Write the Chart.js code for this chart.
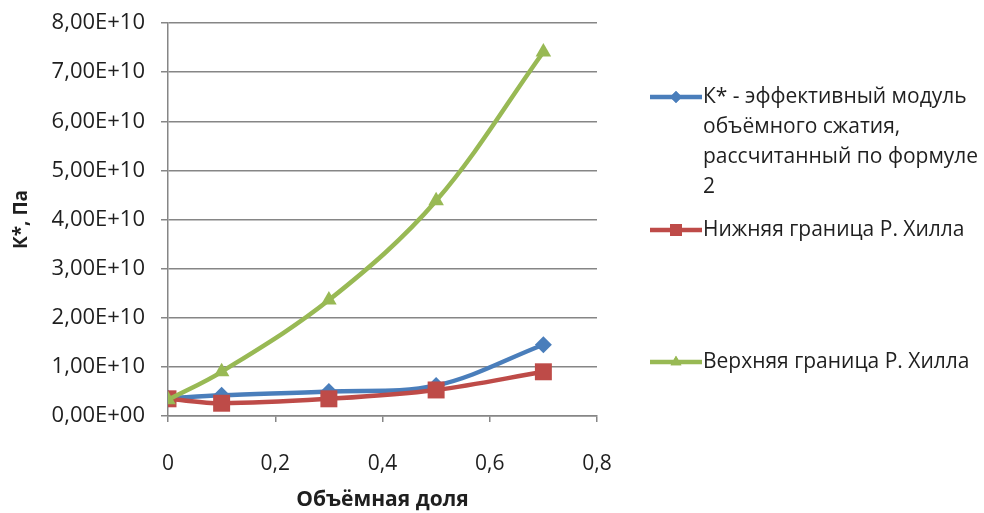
<!DOCTYPE html>
<html>
<head>
<meta charset="utf-8">
<script src="https://cdn.jsdelivr.net/npm/chart.js@4/dist/chart.umd.min.js"></script>
<style>
  html, body { margin: 0; padding: 0; background: #ffffff; }
  #wrap { width: 984px; height: 513px; position: relative; }
</style>
</head>
<body>
<div id="wrap"><canvas id="c" width="984" height="513"></canvas></div>
<script>
// Volume fraction of the inclusions
const volumeFraction = [0, 0.1, 0.3, 0.5, 0.7];

// Bulk modulus values, Pa
const kEffective = [3.6e9, 4.2e9, 5.0e9, 6.2e9, 1.45e10];
const hillLower  = [3.5e9, 2.6e9, 3.5e9, 5.3e9, 9.0e9];
const hillUpper  = [3.3e9, 9.0e9, 2.36e10, 4.38e10, 7.41e10];

const seriesNames = [
  'К* - эффективный модуль объёмного сжатия, рассчитанный по формуле 2',
  'Нижняя граница Р. Хилла',
  'Верхняя граница Р. Хилла'
];

const xTitle = 'Объёмная доля';
const yTitle = 'К*, Па';

const FONT = '"Open Sans", "DejaVu Sans", sans-serif';
const TEXT = '#1f1f1f';

function pts(ys) { return volumeFraction.map((x, i) => ({ x: x, y: ys[i] })); }

function sci(v) {
  if (v === 0) return '0,00E+00';
  const e = Math.floor(Math.log10(Math.abs(v)) + 1e-9);
  const m = v / Math.pow(10, e);
  return m.toFixed(2).replace('.', ',') + 'E+' + String(e).padStart(2, '0');
}

// Legend drawn at the right of the plot, with wrapped labels
const sideLegend = {
  id: 'sideLegend',
  afterDraw(chart, args, opts) {
    const ctx = chart.ctx;
    ctx.save();
    ctx.font = opts.fontSize + 'px ' + FONT;
    ctx.textBaseline = 'middle';
    chart.data.datasets.forEach((ds, i) => {
      const y0 = opts.itemY[i];
      const words = ds.label.split(' ');
      const lines = [];
      let cur = '';
      words.forEach(w => {
        const t = cur ? cur + ' ' + w : w;
        if (ctx.measureText(t).width > opts.maxWidth && cur) { lines.push(cur); cur = w; }
        else cur = t;
      });
      if (cur) lines.push(cur);
      ctx.strokeStyle = ds.borderColor;
      ctx.lineWidth = ds.borderWidth;
      ctx.lineCap = 'butt';
      ctx.beginPath();
      ctx.moveTo(opts.x, y0);
      ctx.lineTo(opts.x + opts.lineLen, y0);
      ctx.stroke();
      ctx.fillStyle = ds.backgroundColor;
      Chart.helpers.drawPoint(ctx, {
        pointStyle: ds.pointStyle,
        radius: ds.pointRadius * 0.7,
        borderWidth: 0,
        rotation: 0
      }, opts.x + opts.lineLen / 2, y0);
      ctx.fill();
      ctx.fillStyle = TEXT;
      lines.forEach((l, k) => ctx.fillText(l, opts.textX, y0 + k * opts.lineHeight));
    });
    ctx.restore();
  }
};

const blue = '#4A7EBB', red = '#BE4B48', green = '#98B954';

new Chart(document.getElementById('c'), {
  type: 'line',
  data: {
    datasets: [
      { label: seriesNames[0], data: pts(kEffective), borderColor: blue, backgroundColor: blue,
        borderWidth: 4.5, pointStyle: 'rectRot', pointRadius: 8.5, pointBorderWidth: 0, tension: 0.35, order: 2 },
      { label: seriesNames[1], data: pts(hillLower), borderColor: red, backgroundColor: red,
        borderWidth: 4.5, pointStyle: 'rect', pointRadius: 12, pointBorderWidth: 0, tension: 0.35, order: 1 },
      { label: seriesNames[2], data: pts(hillUpper), borderColor: green, backgroundColor: green,
        borderWidth: 4.5, pointStyle: 'triangle', pointRadius: 9, pointBorderWidth: 0, tension: 0.35, order: 0 }
    ]
  },
  options: {
    responsive: false,
    animation: false,
    layout: { padding: { left: 0, right: 387, top: 23, bottom: 0 } },
    plugins: {
      legend: { display: false },
      tooltip: { enabled: false },
      sideLegend: { x: 650, lineLen: 52, textX: 703, itemY: [97, 230, 362], lineHeight: 30, maxWidth: 278, fontSize: 21 }
    },
    scales: {
      x: {
        type: 'linear', min: 0, max: 0.8,
        afterFit(s) { s.height = 97; },
        ticks: { stepSize: 0.2, padding: 29, color: TEXT, font: { family: FONT, size: 21 },
                 callback: v => String(Math.round(v * 10) / 10).replace('.', ',') },
        grid: { display: true, drawOnChartArea: false, drawTicks: true, tickLength: 6, color: '#868686', lineWidth: 1.5 },
        border: { display: true, color: '#868686', width: 1.5 },
        title: { display: true, text: xTitle, color: TEXT, font: { family: FONT, size: 21, weight: 'bold' }, padding: { top: 0, bottom: 0 } }
      },
      y: {
        min: 0, max: 8e10,
        afterFit(s) { s.width = 168; s.paddingTop = 0; s.paddingBottom = 0; },
        ticks: { stepSize: 1e10, padding: 16, color: TEXT, font: { family: FONT, size: 22 }, callback: v => sci(v) },
        grid: { color: '#868686', lineWidth: 1.5, tickLength: 7 },
        border: { display: true, color: '#868686', width: 1.5 },
        title: { display: true, text: yTitle, color: TEXT, font: { family: FONT, size: 19, weight: 'bold' }, padding: { top: 10, bottom: 0 } }
      }
    }
  },
  plugins: [sideLegend]
});
</script>
</body>
</html>
